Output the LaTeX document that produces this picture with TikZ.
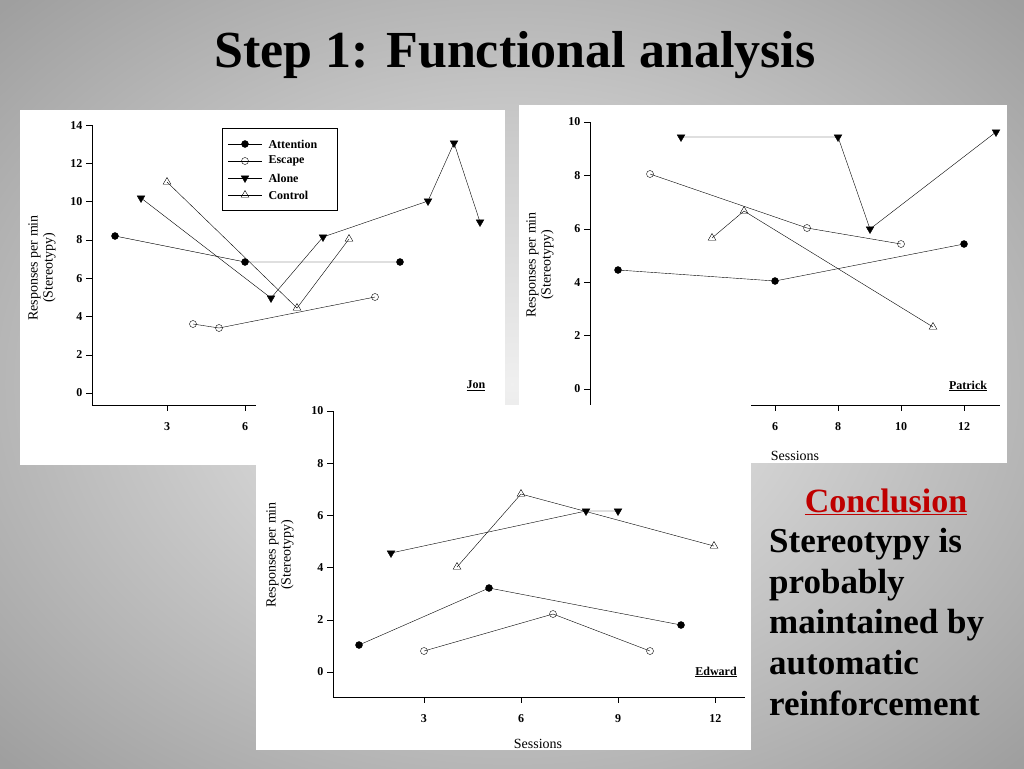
\documentclass[tikz,border=0pt]{standalone}
\usepackage{fontspec}
\setmainfont{Liberation Serif}
\usetikzlibrary{plotmarks}
\begin{document}
\begin{tikzpicture}[x=1pt,y=-1pt,
 lbl/.style={font=\fontsize{12}{12}\selectfont\bfseries},
 ylab/.style={font=\fontsize{14}{15}\selectfont,align=center,rotate=90},
 att/.style={mark=*,mark size=3.5pt,mark options={fill=black}},
 esc/.style={mark=o,mark size=3.5pt,mark options={fill=white}},
 alo/.style={mark=triangle*,mark size=4.5pt,mark options={rotate=180,fill=black}},
 con/.style={mark=triangle,mark size=4.5pt,mark options={fill=white}},
 ser/.style={thin,black}]
\useasboundingbox (0,0) rectangle (1024,768);
\begin{scope}
\clip (0,0) rectangle (1024,768);
\shade[inner color=gray!12, outer color=gray!75] (-200,-150) rectangle (1224,918);
\end{scope}
\node[font=\fontsize{52}{52}\selectfont\bfseries] (title) at (515,55) {Step 1: Functional analysis};
% Panel Jon
\fill[white] (20,110) rectangle (505,465);
\draw (92,125) -- (92,405);
\foreach \v in {0,2,...,14}{\draw (92,393-19.14*\v) -- (86,393-19.14*\v) node[left,lbl]{\v};}
\foreach \s/\l in {3/3,6/6}{\draw (115+26*\s-26,405) -- (115+26*\s-26,411) node[below=8pt,lbl]{\l};}
\draw (92,405) -- (260,405);
\node[ylab] (yl1) at (42,268) {Responses per min\\(Stereotypy)};
\node[lbl] (jon) at (476,386) {\underline{Jon}};
\draw[ser] plot[att] coordinates {(115,236)(245,262)(400,262)};
\draw[ser] plot[esc] coordinates {(193,324)(219,328)(375,297)};
\draw[ser] plot[alo] coordinates {(141,198)(271,298)(323,237)(428,201)(454,143)(480,222)};
\draw[ser] plot[con] coordinates {(167,182)(297,308)(349,239)};
\draw[thin] (222,128) rectangle (337,210);
\foreach \st/\yy/\t in {att/144/Attention,esc/161/Escape,alo/178/Alone,con/195/Control}{
 \draw (228,\yy) -- (262,\yy);
 \draw plot[\st] coordinates {(245,\yy)};
 \node[lbl,right] at (265,\yy){\t};}
% Panel Patrick
\fill[white] (519,105) rectangle (1007,463);
\draw (590,122) -- (590,405) -- (1000,405);
\foreach \v in {0,2,...,10}{\draw (590,389-26.7*\v) -- (584,389-26.7*\v) node[left,lbl]{\v};}
\foreach \s in {6,8,10,12}{\draw (617.5+31.5*\s-31.5,405) -- (617.5+31.5*\s-31.5,411) node[below=8pt,lbl]{\s};}
\node[ylab] (yl2) at (540,265) {Responses per min\\(Stereotypy)};
\node[font=\fontsize{14}{14}\selectfont] (s2) at (795,456) {Sessions};
\node[lbl] (pat) at (968,386) {\underline{Patrick}};
\draw[ser] plot[alo] coordinates {(681,137)(838,137)(870,229)(996,132)};
\draw[ser] plot[esc] coordinates {(650,174)(807,228)(901,244)};
\draw[ser] plot[att] coordinates {(618,270)(775,281)(964,244)};
\draw[ser] plot[con] coordinates {(712,238)(744,211)(933,327)};
% Panel Edward
\fill[white] (256,405) rectangle (751,750);
\draw (333,411) -- (333,697) -- (745,697);
\foreach \v in {0,2,...,10}{\draw (333,672-26.1*\v) -- (327,672-26.1*\v) node[left,lbl]{\v};}
\foreach \s in {3,6,9,12}{\draw (359+32.4*\s-32.4,697) -- (359+32.4*\s-32.4,703) node[below=8pt,lbl]{\s};}
\node[ylab] (yl3) at (280,555) {Responses per min\\(Stereotypy)};
\node[font=\fontsize{14}{14}\selectfont] (s3) at (538,744) {Sessions};
\node[lbl] (edw) at (716,672) {\underline{Edward}};
\draw[ser] plot[alo] coordinates {(391,553)(586,511)(618,511)};
\draw[ser] plot[con] coordinates {(457,567)(521,494)(714,546)};
\draw[ser] plot[att] coordinates {(359,645)(489,588)(681,625)};
\draw[ser] plot[esc] coordinates {(424,651)(553,614)(650,651)};
% Conclusion
\node[font=\fontsize{34}{34}\selectfont\bfseries,text=red!75!black] (conc) at (886,502) {\underline{Conclusion}};
\node[font=\fontsize{35}{40.7}\selectfont\bfseries,align=left,anchor=north west,inner sep=0pt] (ctext) at (769,528) {Stereotypy is\\probably\\maintained by\\automatic\\reinforcement};
\end{tikzpicture}
\end{document}
